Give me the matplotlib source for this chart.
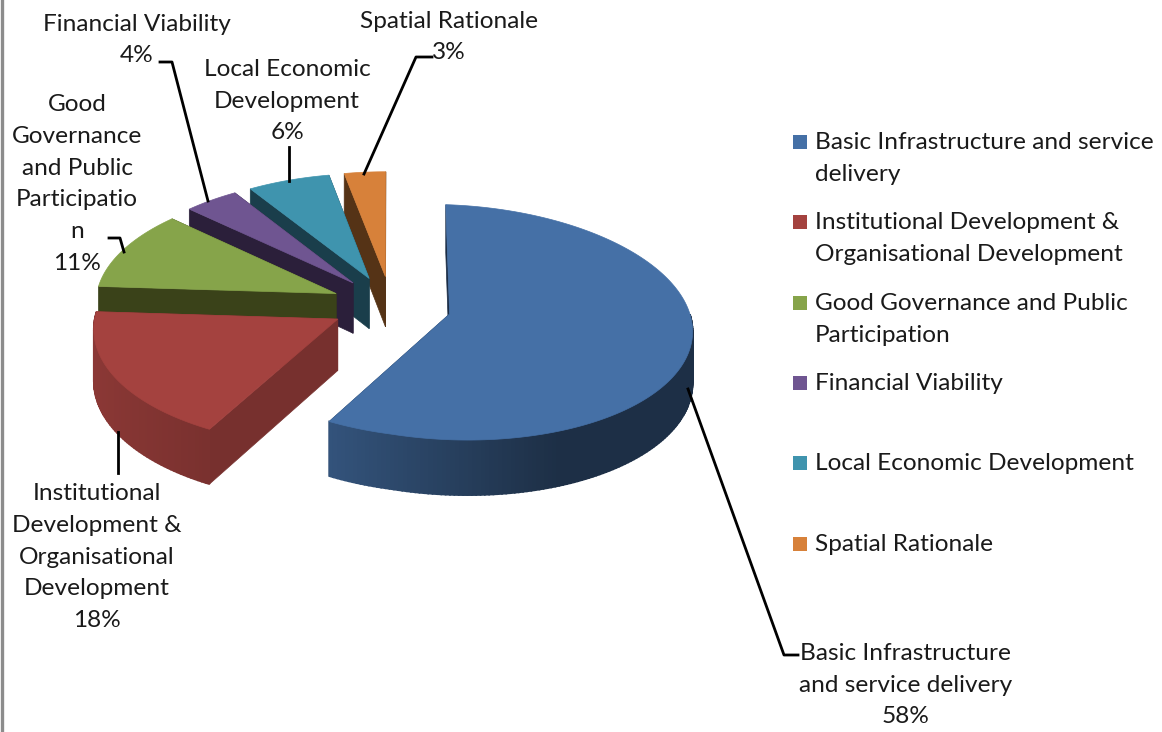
import numpy as np
import matplotlib
matplotlib.use("Agg")
import matplotlib.pyplot as plt
from matplotlib.patches import Polygon, Rectangle
from matplotlib.colors import to_rgb

categories = ["Basic Infrastructure and service delivery",
              "Institutional Development & Organisational Development",
              "Good Governance and Public Participation",
              "Financial Viability",
              "Local Economic Development",
              "Spatial Rationale"]
values = [58, 18, 11, 4, 6, 3]
slice_labels = ["Basic Infrastructure\nand service delivery",
                "Institutional\nDevelopment &\nOrganisational\nDevelopment",
                "Good\nGovernance\nand Public\nParticipatio\nn",
                "Financial Viability",
                "Local Economic\nDevelopment",
                "Spatial Rationale"]
legend_labels = ["Basic Infrastructure and service\ndelivery",
                 "Institutional Development &\nOrganisational Development",
                 "Good Governance and Public\nParticipation",
                 "Financial Viability",
                 "Local Economic Development",
                 "Spatial Rationale"]
top_colors = ["#4570a6", "#a4423f", "#86a44a", "#6f5591", "#3f94ae", "#d7813a"]
cut_colors = ["#1a2c45", "#77302e", "#3a4219", "#2b1f3a", "#1a3e4b", "#553316"]

FONT = "Lato"
FS = 17.6
SPACING = 1.63
# pie geometry, in pixels
CX, CY = 391, 305
RX, RY = 241, 116
PERSP = 0.07
SHEAR = 0.03
DEPTH = 51
EXPLODE = 0.25

def project(x, z):
    s = 1 / (1 - PERSP * z)
    # the right hand side of the pie leans down a little
    return CX + RX * x * s, CY + RY * z * s + SHEAR * RX * np.maximum(x, 0), DEPTH * s

def shade(color, f):
    return tuple(c * f for c in to_rgb(color))

fig = plt.figure(figsize=(11.62, 7.32), dpi=100)
ax = fig.add_axes([0, 0, 1, 1])
ax.set_xlim(0, 1162)
ax.set_ylim(732, 0)
ax.axis("off")

ax.plot([1.5, 1.5], [0, 732], color="#8c8c8c", lw=2.4)

edges = np.radians(np.concatenate([[0], np.cumsum(values)]) * 3.6)

# far slices first, the blue one goes on last
for i in [5, 4, 3, 2, 1, 0]:
    a0, a1 = edges[i], edges[i + 1]
    mid = (a0 + a1) / 2
    ox = EXPLODE * np.sin(mid)
    oz = -EXPLODE * np.cos(mid)
    t = np.linspace(a0, a1, max(6, int((a1 - a0) * 60)))
    xs = ox + np.sin(t)
    zs = oz - np.cos(t)
    px, py, pd = project(xs, zs)
    ax_, ay_, ad_ = project(ox, oz)

    # cut faces
    for px0, py0, pd0 in [(px[0], py[0], pd[0]), (px[-1], py[-1], pd[-1])]:
        face = [(ax_, ay_), (px0, py0), (px0, py0 + pd0), (ax_, ay_ + ad_)]
        ax.add_patch(Polygon(face, closed=True, fc=cut_colors[i], ec=cut_colors[i], lw=0.5))

    # outer wall split in strips for the shading
    for j in range(len(t) - 1):
        tm = (t[j] + t[j + 1]) / 2
        if np.cos(tm) > 0.064:
            continue
        f = np.interp(np.sin(tm), [-1, -0.48, 0.4, 1], [0.85, 0.74, 0.42, 0.42])
        c = shade(top_colors[i], f)
        strip = [(px[j], py[j]), (px[j + 1], py[j + 1]),
                 (px[j + 1], py[j + 1] + pd[j + 1]), (px[j], py[j] + pd[j])]
        ax.add_patch(Polygon(strip, closed=True, fc=c, ec=c, lw=1.2))

    # top face
    top = [(ax_, ay_)] + list(zip(px, py))
    ax.add_patch(Polygon(top, closed=True, fc=top_colors[i], ec=top_colors[i], lw=0.5))

# leader lines
leaders = [[(798, 655), (784, 655), (688, 389)],
           [(118, 432), (118, 473)],
           [(109, 238), (120, 238), (124, 252)],
           [(160, 62), (172, 62), (208, 201)],
           [(289, 147), (289, 181)],
           [(432, 57), (416, 57), (364, 174)]]
for line in leaders:
    ax.plot([p[0] for p in line], [p[1] for p in line], color="black", lw=2, solid_joinstyle="round", zorder=1)

# slice labels
label_pos = [(906, 685), (97, 557), (77, 184), (137, 40), (287, 101), (449, 37)]
for i in range(len(values)):
    ax.text(label_pos[i][0], label_pos[i][1], slice_labels[i] + "\n" + str(values[i]) + "%",
            ha="center", va="center", family=FONT, fontsize=FS, color="#1a1a1a", linespacing=SPACING)

# legend
legend_y = [142, 222, 303, 383, 463, 544]
for i in range(len(values)):
    ax.add_patch(Rectangle((793, legend_y[i] - 7), 14, 14, fc=top_colors[i], ec="none"))
    ax.text(815, legend_y[i] - 10, legend_labels[i], ha="left", va="top", family=FONT,
            fontsize=FS, color="#1a1a1a", linespacing=SPACING)

fig.savefig("out.png", dpi=100, facecolor="white")
